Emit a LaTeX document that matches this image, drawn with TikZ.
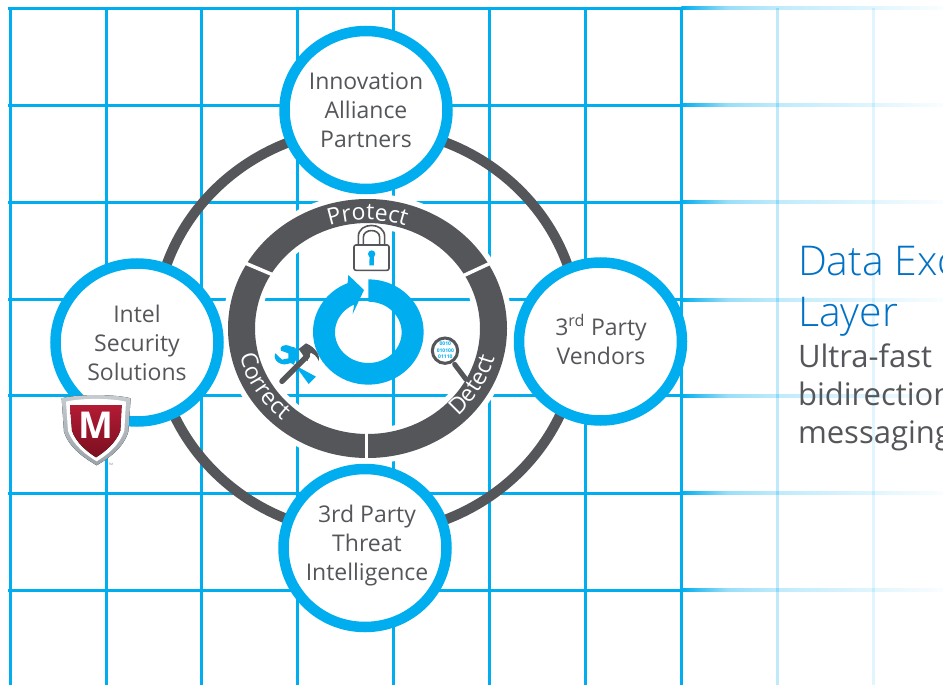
\documentclass[tikz,border=0pt]{standalone}
\usepackage{fontspec}
\setmainfont{Open Sans}
\newfontfamily\lightfont{Open Sans Light}
\usetikzlibrary{shapes.geometric,decorations.text}
\definecolor{gridblue}{HTML}{00AEEF}
\definecolor{ringgray}{HTML}{54565A}
\definecolor{titleblue}{HTML}{0071C5}
\definecolor{shieldtop}{HTML}{B31B34}
\definecolor{shieldlow}{HTML}{7B0F20}
\definecolor{silvertop}{HTML}{C6CCD0}
\definecolor{silverlow}{HTML}{9AA3A9}
\pgfdeclarehorizontalshading{gridfade}{100bp}{
  color(0bp)=(gridblue);
  color(25bp)=(gridblue);
  color(33.8bp)=(gridblue!40!white);
  color(43.3bp)=(gridblue!25!white);
  color(61.6bp)=(gridblue!12!white);
  color(75bp)=(gridblue!2!white);
  color(100bp)=(white)}
\tikzset{
  gridline/.style={gridblue,line width=3pt},
  hub/.style={ellipse,draw=gridblue,line width=10.5pt,fill=white,inner sep=0pt,outer sep=0pt,
    minimum width=163pt,minimum height=158pt},
  hubtext/.style={align=center,text=ringgray,inner sep=0pt,
    font=\fontsize{23}{29}\selectfont},
  ringtext/.style={postaction={decorate},decoration={text along path,text color=white,
    text align=center,text={|\fontsize{23}{23}\selectfont|#1}}},
  wordline/.style={anchor=base west,inner sep=0pt,outer sep=0pt},
}
\begin{document}
\begin{tikzpicture}[x=1pt,y=1pt]
\useasboundingbox (0,0) rectangle (943,-685);
\fill[white] (0,0) rectangle (943,-685);
% grid
\foreach \gx in {10.3,106,201.5,297.6,393.5,489.5,585.5,681.3}
  \draw[gridline] (\gx,-8) -- (\gx,-685);
\foreach \gy in {8.3,105.3,202.3,299.5,395.7,493,590}{
  \draw[gridline] (8,-\gy) -- (681.3,-\gy);
  \shade[shading=gridfade] (681.3,-\gy+1.5) rectangle (943,-\gy-1.5);
}
\draw[gridline,opacity=.25] (777.5,-8) -- (777.5,-685);
\draw[gridline,opacity=.12] (873.3,-8) -- (873.3,-685);
% halo of the inner ring
\fill[white,even odd rule] (367.5,-328.5) ellipse [x radius=145,y radius=135]
   (367.5,-328.5) ellipse [x radius=107,y radius=100];
% outer ring
\draw[ringgray,line width=10pt] (367,-331) ellipse [x radius=212,y radius=203];
% inner ring
\fill[ringgray,even odd rule] (367.5,-328.5) ellipse [x radius=139.5,y radius=129.5]
   (367.5,-328.5) ellipse [x radius=112.5,y radius=105.5];
\begin{scope}[shift={(220,-190)},scale=1/3]
  \draw[white,line width=3.5pt] (440,-725) -- (440,-810);
  \draw[white,line width=3.5pt] (75,-219) -- (160,-255);
  \draw[white,line width=3.5pt] (728,-258) -- (812,-219);
  % cycle arrow
  \fill[gridblue] (445,-268) arc [start angle=90,end angle=-248,x radius=166,y radius=158]
    -- (385,-255) -- (432,-300) -- (398,-372) -- (402.7,-343.6)
    arc [start angle=115,end angle=450,x radius=100,y radius=92] -- cycle;
  % lock
  \draw[ringgray,line width=1.6pt,rounded corners=2pt] (402,-165) rectangle (507,-241);
  \draw[ringgray,line width=1.6pt] (415,-165) -- (415,-140) .. controls (415,-95) and (494,-95) .. (494,-140) -- (494,-165);
  \draw[ringgray,line width=1.6pt] (430,-165) -- (430,-142) .. controls (430,-115) and (479,-115) .. (479,-142) -- (479,-165);
  \fill[gridblue] (455,-192) circle (11);
  \fill[gridblue] (449,-192) -- (461,-192) -- (462,-226) -- (448,-226) -- cycle;
  % wrench
  \fill[gridblue] (214,-470) .. controls (190,-458) and (176,-472) .. (183,-482)
    -- (205,-490) -- (205,-505) -- (186,-509) -- (166,-490)
    .. controls (156,-512) and (185,-532) .. (212,-519)
    -- (288,-560) -- (266,-582) -- (222,-522) -- (234,-497)
    .. controls (234,-480) and (227,-470) .. (214,-470) -- cycle;
  % hammer
  \draw[ringgray,line width=5.5pt,line cap=round] (186,-574) -- (262,-498);
  \fill[ringgray] (236,-477) -- (258,-460) .. controls (287,-472) and (300,-495) .. (297,-514)
    .. controls (290,-497) and (280,-492) .. (272,-488) -- (262,-514) -- cycle;
  % magnifier
  \draw[ringgray,line width=5pt,line cap=round] (704,-523) -- (738,-568);
  \draw[ringgray,fill=white,line width=3pt] (675,-482) circle (38);
  \node[text=gridblue,font=\bfseries\fontsize{5}{6.6}\selectfont,align=center,inner sep=0pt] (bits) at (676,-481) {0010\\010100\\01110};
\end{scope}
% ring labels
\path[ringtext=Protect] (367.5,-328.5) ++(130:116 and 108.5) arc [start angle=130,end angle=50,x radius=116,y radius=108.5];
\path[ringtext=Correct] (367.5,-328.5) ++(188:131 and 121) arc [start angle=188,end angle=234,x radius=131,y radius=121];
\path[ringtext=Detect] (367.5,-328.5) ++(308:131 and 121) arc [start angle=308,end angle=352,x radius=131,y radius=121];
% hubs
\node[hub] (partners) at (366,-110) {};
\node[hub] (intel) at (137,-342.5) {};
\node[hub] (vendors) at (600.5,-341.5) {};
\node[hub] (threat) at (365,-548) {};
\node[hubtext] (partnerstext) at (366,-110) {Innovation\\Alliance\\Partners};
\node[hubtext] (inteltext) at (137,-343) {Intel\\Security\\Solutions};
\node[hubtext] (vendorstext) at (601,-339.5) {3\textsuperscript{rd} Party\\Vendors};
\node[hubtext] (threattext) at (367,-546) {3rd Party\\Threat\\Intelligence};
% shield
\begin{scope}[shift={(40,-370)},scale=1/3]
  \fill[top color=silvertop,bottom color=silverlow] (65,-85) .. controls (110,-72) and (225,-72) .. (272,-85)
     -- (265,-185) .. controls (250,-235) and (205,-265) .. (170,-286)
     .. controls (135,-265) and (88,-235) .. (72,-185) -- cycle;
  \fill[white] (78,-95) .. controls (120,-84) and (215,-84) .. (258,-95)
     -- (253,-182) .. controls (238,-228) and (200,-255) .. (170,-274)
     .. controls (140,-255) and (100,-228) .. (84,-182) -- cycle;
  \fill[top color=shieldtop,bottom color=shieldlow] (90,-105) -- (245,-105) -- (241,-182)
     .. controls (228,-218) and (195,-245) .. (168,-262)
     .. controls (142,-245) and (108,-218) .. (96,-182) -- cycle;
  \node[text=white,font=\bfseries\fontsize{37}{37}\selectfont,inner sep=0pt] (mlogo) at (168,-165) {M};
  \node[text=gray,font=\fontsize{3}{3}\selectfont,inner sep=0pt] (tmmark) at (213,-284) {TM};
\end{scope}
% right-hand text
\node[wordline,text=titleblue,font=\lightfont\fontsize{41}{41}\selectfont] (title1) at (798,-275) {Data Exc};
\node[wordline,text=titleblue,font=\lightfont\fontsize{41}{41}\selectfont] (title2) at (798,-326) {Layer};
\node[wordline,text=ringgray,font=\fontsize{31}{31}\selectfont] (body1) at (798,-367) {Ultra-fast};
\node[wordline,text=ringgray,font=\fontsize{31}{31}\selectfont] (body2) at (798,-405.5) {bidirection};
\node[wordline,text=ringgray,font=\fontsize{31}{31}\selectfont] (body3) at (798,-443) {messaging};
\end{tikzpicture}
\end{document}
